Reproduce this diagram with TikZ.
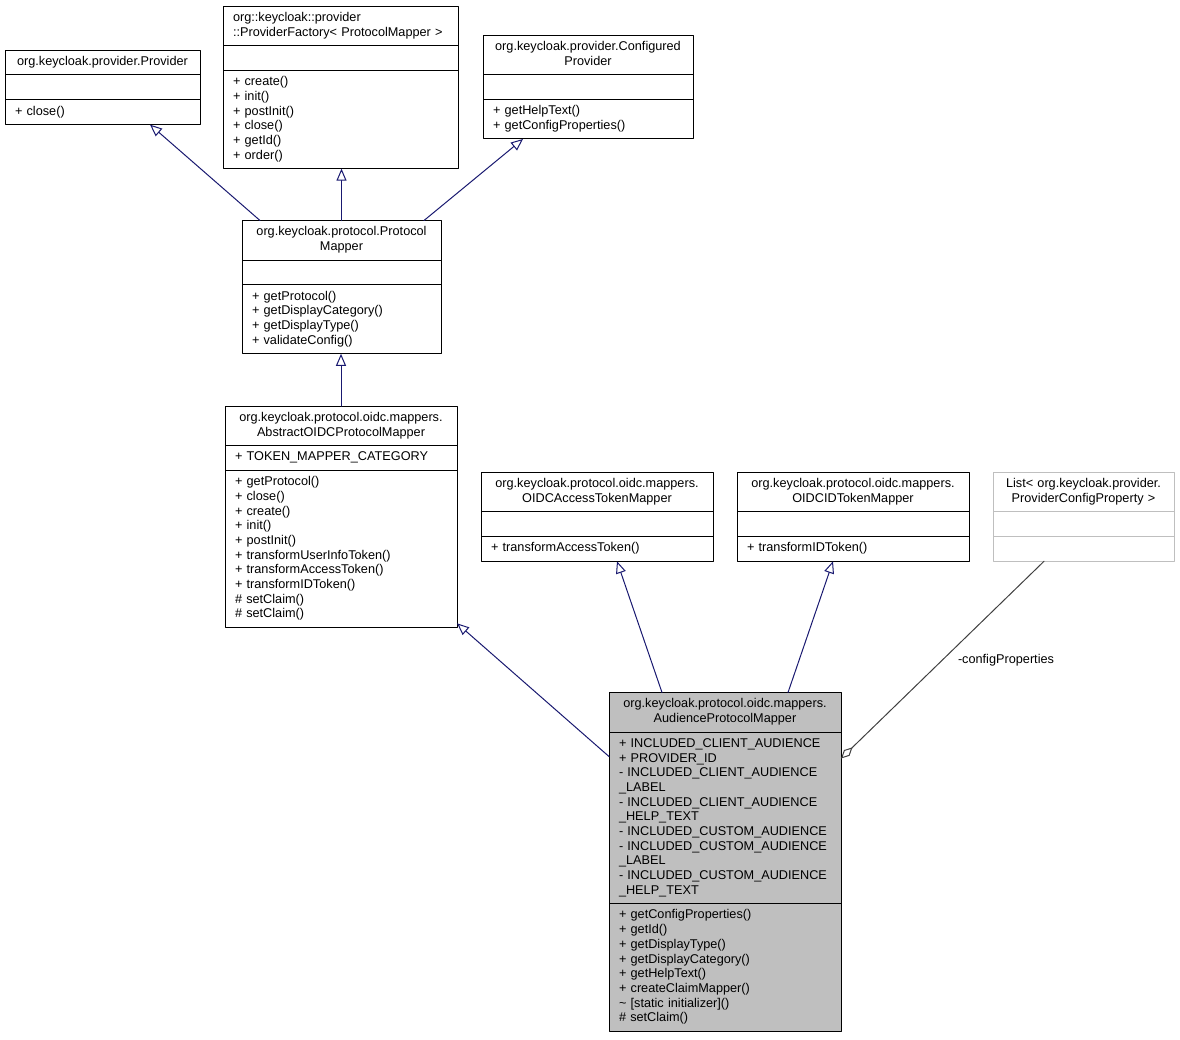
\documentclass[tikz,border=0pt]{standalone}
\usepackage{fontspec}
\setmainfont{Liberation Sans}
\usepackage{xcolor}
\usetikzlibrary{arrows.meta,positioning,calc}
\definecolor{navyline}{HTML}{191970}
\definecolor{aggline}{HTML}{404040}
\definecolor{umlgray}{HTML}{BFBFBF}
\newcommand{\umlfont}{\fontsize{12.7}{14.67}\selectfont}
\tikzset{
  umlbox/.style={draw, line width=1pt, fill=white, outer sep=0pt, inner xsep=10pt, inner ysep=5.1pt,
    font=\umlfont, execute at begin node=\strut, execute at end node=\strut},
  umlhead/.style={umlbox, align=center, text width=#1},
  umlbody/.style={umlbox, align=left, text width=#1},
  isa/.style={draw=navyline, line width=1pt, -{Triangle[length=12pt,width=10pt,fill=white]}},
  hasa/.style={draw=aggline, line width=1pt, -{Diamond[length=16pt,width=8pt,fill=white]}}
}
\begin{document}
\begin{tikzpicture}[line cap=round,line join=round,x=1pt,y=-1pt]
\useasboundingbox (0,0) rectangle (1180,1039);
\node[umlhead=175pt, anchor=north west] (prov) at (5,50) {org.keycloak.provider.Provider};
\node[umlbody=175pt, below=0pt of prov] (prov-a) {};
\node[umlbody=175pt, below=0pt of prov-a] (prov-m) {+ close()};

\node[umlbody=215pt, anchor=north west] (fact) at (223,6) {org::keycloak::provider\\::ProviderFactory< ProtocolMapper >};
\node[umlbody=215pt, below=0pt of fact] (fact-a) {};
\node[umlbody=215pt, below=0pt of fact-a] (fact-m) {+ create()\\+ init()\\+ postInit()\\+ close()\\+ getId()\\+ order()};

\node[umlhead=190pt, anchor=north west] (conf) at (483,35) {org.keycloak.provider.Configured\\Provider};
\node[umlbody=190pt, below=0pt of conf] (conf-a) {};
\node[umlbody=190pt, below=0pt of conf-a] (conf-m) {+ getHelpText()\\+ getConfigProperties()};

\node[umlhead=179pt, anchor=north west] (pm) at (242,220.5) {org.keycloak.protocol.Protocol\\Mapper};
\node[umlbody=179pt, below=0pt of pm] (pm-a) {};
\node[umlbody=179pt, below=0pt of pm-a] (pm-m) {+ getProtocol()\\+ getDisplayCategory()\\+ getDisplayType()\\+ validateConfig()};

\node[umlhead=212pt, anchor=north west] (abs) at (225,406) {org.keycloak.protocol.oidc.mappers.\\AbstractOIDCProtocolMapper};
\node[umlbody=212pt, below=0pt of abs] (abs-a) {+ TOKEN\_MAPPER\_CATEGORY};
\node[umlbody=212pt, below=0pt of abs-a] (abs-m) {+ getProtocol()\\+ close()\\+ create()\\+ init()\\+ postInit()\\+ transformUserInfoToken()\\+ transformAccessToken()\\+ transformIDToken()\\\# setClaim()\\\# setClaim()};

\node[umlhead=212pt, anchor=north west] (acc) at (481,472) {org.keycloak.protocol.oidc.mappers.\\OIDCAccessTokenMapper};
\node[umlbody=212pt, below=0pt of acc] (acc-a) {};
\node[umlbody=212pt, below=0pt of acc-a] (acc-m) {+ transformAccessToken()};

\node[umlhead=212pt, anchor=north west] (idt) at (737,472) {org.keycloak.protocol.oidc.mappers.\\OIDCIDTokenMapper};
\node[umlbody=212pt, below=0pt of idt] (idt-a) {};
\node[umlbody=212pt, below=0pt of idt-a] (idt-m) {+ transformIDToken()};

\node[umlhead=161pt, draw=umlgray, anchor=north west] (lst) at (993,472) {List< org.keycloak.provider.\\ProviderConfigProperty >};
\node[umlbody=161pt, draw=umlgray, below=0pt of lst] (lst-a) {};
\node[umlbody=161pt, draw=umlgray, below=0pt of lst-a] (lst-m) {};

\node[umlhead=212pt, fill=umlgray, anchor=north west] (aud) at (609,692.5) {org.keycloak.protocol.oidc.mappers.\\AudienceProtocolMapper};
\node[umlbody=212pt, fill=umlgray, below=0pt of aud] (aud-a) {+ INCLUDED\_CLIENT\_AUDIENCE\\+ PROVIDER\_ID\\- INCLUDED\_CLIENT\_AUDIENCE\\\_LABEL\\- INCLUDED\_CLIENT\_AUDIENCE\\\_HELP\_TEXT\\- INCLUDED\_CUSTOM\_AUDIENCE\\- INCLUDED\_CUSTOM\_AUDIENCE\\\_LABEL\\- INCLUDED\_CUSTOM\_AUDIENCE\\\_HELP\_TEXT};
\node[umlbody=212pt, fill=umlgray, below=0pt of aud-a] (aud-m) {+ getConfigProperties()\\+ getId()\\+ getDisplayType()\\+ getDisplayCategory()\\+ getHelpText()\\+ createClaimMapper()\\\textasciitilde{} [static initializer]()\\\# setClaim()};

\draw[isa] ([xshift=18pt]pm.north west) -- ([xshift=145pt]prov-m.south west);
\draw[isa] (pm.north) -- (pm.north |- fact-m.south);
\draw[isa] ([xshift=-17pt]pm.north east) -- ([xshift=40pt]conf-m.south west);
\draw[isa] (abs.north) -- (abs.north |- pm-m.south);
\draw[isa] ([yshift=-64pt]aud.north west) -- ([yshift=4pt]abs-m.south east);
\draw[isa] ([xshift=53pt]aud.north west) -- ([xshift=136pt]acc-m.south west);
\draw[isa] ([xshift=179pt]aud.north west) -- ([xshift=96pt]idt-m.south west);
\draw[hasa] ([xshift=51pt]lst-m.south west) -- node[pos=0.5, anchor=west, inner sep=0pt, xshift=15pt, font=\umlfont] {-configProperties} ([yshift=-66pt]aud.north east);
\end{tikzpicture}
\end{document}
